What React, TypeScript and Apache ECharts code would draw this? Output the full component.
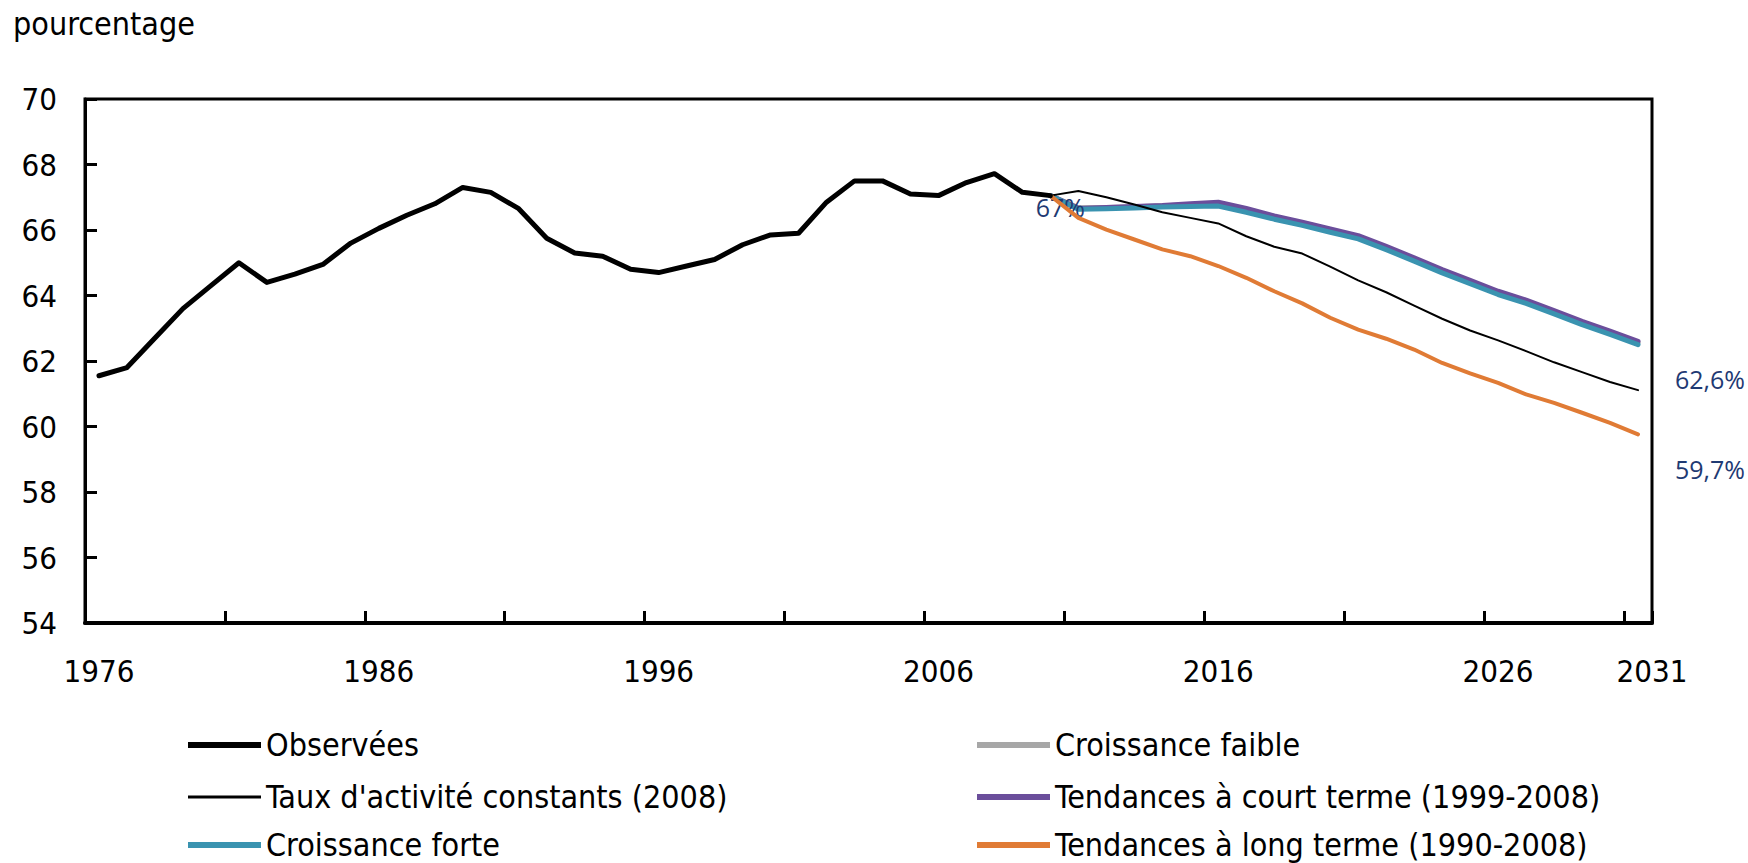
import React, { useEffect, useRef } from "react";
import * as echarts from "echarts";

const years = [
  "1976", "1977", "1978", "1979", "1980", "1981", "1982", "1983", "1984", "1985",
  "1986", "1987", "1988", "1989", "1990", "1991", "1992", "1993", "1994", "1995",
  "1996", "1997", "1998", "1999", "2000", "2001", "2002", "2003", "2004", "2005",
  "2006", "2007", "2008", "2009", "2010", "2011", "2012", "2013", "2014", "2015",
  "2016", "2017", "2018", "2019", "2020", "2021", "2022", "2023", "2024", "2025",
  "2026", "2027", "2028", "2029", "2030", "2031",
];

// Observed 1976-2010
const observed = [
  61.55, 61.8, 62.7, 63.6, 64.3, 65.0, 64.4, 64.65, 64.95, 65.6,
  66.05, 66.45, 66.8, 67.3, 67.15, 66.65, 65.75, 65.3, 65.2, 64.8,
  64.7, 64.9, 65.1, 65.55, 65.85, 65.9, 66.85, 67.5, 67.5, 67.1,
  67.05, 67.45, 67.72, 67.15, 67.05,
];

// Projections 2010-2031
const constantRates = [
  67.05, 67.19, 67.0, 66.78, 66.54, 66.37, 66.2, 65.81, 65.49, 65.28, 64.88,
  64.46, 64.1, 63.69, 63.29, 62.93, 62.63, 62.3, 61.96, 61.66, 61.36, 61.11,
];
const highGrowth = [
  67.05, 66.63, 66.65, 66.67, 66.7, 66.72, 66.73, 66.54, 66.33, 66.14, 65.93,
  65.73, 65.4, 65.05, 64.69, 64.36, 64.03, 63.76, 63.44, 63.11, 62.81, 62.5,
];
const lowGrowth = [
  67.05, 66.68, 66.69, 66.71, 66.74, 66.77, 66.79, 66.6, 66.39, 66.2, 65.99,
  65.79, 65.46, 65.11, 64.75, 64.42, 64.09, 63.82, 63.5, 63.17, 62.87, 62.56,
];
const shortTerm = [
  67.05, 66.66, 66.69, 66.72, 66.75, 66.8, 66.85, 66.66, 66.43, 66.24, 66.03,
  65.83, 65.5, 65.15, 64.79, 64.46, 64.13, 63.86, 63.54, 63.21, 62.91, 62.6,
];
const longTerm = [
  67.05, 66.37, 66.01, 65.71, 65.41, 65.2, 64.9, 64.54, 64.13, 63.76, 63.32,
  62.96, 62.68, 62.35, 61.94, 61.62, 61.33, 60.98, 60.72, 60.42, 60.11, 59.76,
];

const yTicks = { min: 54, max: 70, interval: 2 };

const seriesNames = {
  observed: "Observées",
  constant: "Taux d'activité constants (2008)",
  high: "Croissance forte",
  low: "Croissance faible",
  short: "Tendances à court terme (1999-2008)",
  long: "Tendances à long terme (1990-2008)",
};

const annotations = {
  start: "67%",
  upperEnd: "62,6%",
  lowerEnd: "59,7%",
};

const FONT = '"DejaVu Sans Condensed", "DejaVu Sans", sans-serif';
const LABEL_FONT = '"Open Sans", "Noto Sans", sans-serif';
const NAVY = "#1F3A73";

const COLORS = {
  observed: "#000000",
  constant: "#000000",
  high: "#3A93B0",
  low: "#A7A7A7",
  short: "#6B4E9B",
  long: "#E07B35",
};

const projStart = years.indexOf("2010");
const pad = (arr: number[]) => [...new Array(projStart).fill(null), ...arr];

export default function App() {
  const ref = useRef<HTMLDivElement>(null);

  useEffect(() => {
    if (!ref.current) return;
    const chart = echarts.init(ref.current, null, { renderer: "svg" });

    const lineBase = (name: string, data: any[], color: string, width: number, z: number) => ({
      name,
      type: "line",
      data,
      symbol: "none",
      smooth: false,
      connectNulls: false,
      z,
      lineStyle: { color, width, join: "round", cap: "round" },
      itemStyle: { color },
    });

    const markLabel = (coord: [string, number], text: string, offset: [number, number]) => ({
      coord,
      symbol: "circle",
      symbolSize: 0,
      label: {
        show: true,
        formatter: text,
        position: "inside",
        offset,
        color: NAVY,
        fontSize: 25,
        fontFamily: LABEL_FONT,
      },
    });

    const legendText = { fontSize: 32, lineHeight: 36, color: "#000", fontFamily: FONT };
    const rowCenters = [745, 797, 845];
    const legendItem = (name: string, left: number, row: number, thick: number) => ({
      orient: "horizontal",
      left,
      top: rowCenters[row] - 18,
      padding: 0,
      icon: "rect",
      itemWidth: 73,
      itemHeight: thick,
      textStyle: legendText,
      data: [name],
    });

    const option: any = {
      animation: false,
      backgroundColor: "#fff",
      title: {
        text: "pourcentage",
        left: 13,
        top: 8,
        padding: 0,
        textStyle: { fontSize: 32, fontWeight: "normal", color: "#000", fontFamily: FONT },
      },
      legend: [
        legendItem(seriesNames.observed, 188, 0, 6),
        legendItem(seriesNames.constant, 188, 1, 3),
        legendItem(seriesNames.high, 188, 2, 6),
        legendItem(seriesNames.low, 977, 0, 6),
        legendItem(seriesNames.short, 977, 1, 6),
        legendItem(seriesNames.long, 977, 2, 6),
      ],
      grid: {
        left: 85,
        right: 96,
        top: 99,
        bottom: 240,
        show: true,
        borderColor: "#000",
        borderWidth: 3,
        backgroundColor: "transparent",
      },
      xAxis: {
        type: "category",
        data: years,
        boundaryGap: true,
        axisLine: { show: true, lineStyle: { color: "#000", width: 4 } },
        axisTick: {
          show: true,
          inside: true,
          length: 12,
          interval: (i: number) => i % 5 === 0,
          lineStyle: { color: "#000", width: 3 },
        },
        axisLabel: {
          interval: (i: number) => i % 10 === 0 || i === years.length - 1,
          margin: 32,
          color: "#000",
          fontSize: 31,
          fontFamily: FONT,
          formatter: (v: string, i: number) => (i === years.length - 1 ? `{last|${v}}` : v),
          rich: {
            last: { padding: [0, 0, 0, 28], fontSize: 31, fontFamily: FONT, color: "#000" },
          },
        },
        splitLine: { show: false },
      },
      yAxis: {
        type: "value",
        min: yTicks.min,
        max: yTicks.max,
        interval: yTicks.interval,
        axisLine: { show: true, lineStyle: { color: "#000", width: 3 } },
        axisTick: { show: true, inside: true, length: 12, lineStyle: { color: "#000", width: 3 } },
        axisLabel: { margin: 28, color: "#000", fontSize: 31, fontFamily: FONT },
        splitLine: { show: false },
      },
      series: [
        lineBase(seriesNames.low, pad(lowGrowth), COLORS.low, 5, 2),
        {
          ...lineBase(seriesNames.short, pad(shortTerm), COLORS.short, 5, 3),
          markPoint: {
            silent: true,
            data: [markLabel(["2031", shortTerm[shortTerm.length - 1]], annotations.upperEnd, [72, 38])],
          },
        },
        {
          ...lineBase(seriesNames.high, pad(highGrowth), COLORS.high, 5, 4),
          markPoint: {
            silent: true,
            data: [markLabel(["2010", highGrowth[0]], annotations.start, [10, 11])],
          },
        },
        lineBase(seriesNames.constant, pad(constantRates), COLORS.constant, 2, 5),
        {
          ...lineBase(seriesNames.long, pad(longTerm), COLORS.long, 4, 6),
          markPoint: {
            silent: true,
            data: [markLabel(["2031", longTerm[longTerm.length - 1]], annotations.lowerEnd, [72, 35])],
          },
        },
        lineBase(seriesNames.observed, observed, COLORS.observed, 5, 7),
      ],
    };

    chart.setOption(option);
    return () => chart.dispose();
  }, []);

  return (
    <div
      ref={ref}
      style={{ position: "fixed", left: 0, top: 0, width: 1748, height: 863, background: "#fff" }}
    />
  );
}
